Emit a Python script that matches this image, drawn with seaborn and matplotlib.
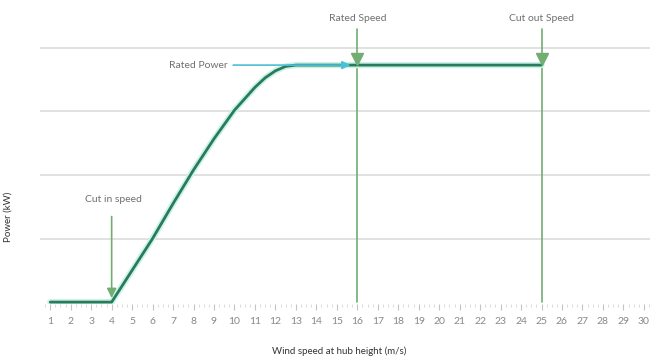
import numpy as np
import pandas as pd
import matplotlib
matplotlib.use("Agg")
import matplotlib.pyplot as plt
import seaborn as sns

# === DATA ===
wind_speed = [1, 2, 3, 4, 5, 6, 7, 8, 9, 10, 11, 11.5, 12, 12.5, 13,
              14, 15, 16, 17, 18, 19, 20, 21, 22, 23, 24, 25]
power = [0, 0, 0, 0, 0.5, 1.0, 1.55, 2.08, 2.57, 3.02, 3.38, 3.53, 3.64, 3.71, 3.73,
         3.73, 3.73, 3.73, 3.73, 3.73, 3.73, 3.73, 3.73, 3.73, 3.73, 3.73, 3.73]
tick_speeds = list(range(1, 31))
cut_in, rated_speed, cut_out = 4, 16, 25
rated_power = 3.73
labels = {"cut_in": "Cut in speed", "rated_power": "Rated Power",
          "rated_speed": "Rated Speed", "cut_out": "Cut out Speed"}

df = pd.DataFrame({"speed": wind_speed, "power": power})

sns.set_style("white")
plt.rcParams["font.family"] = ["Lato", "DejaVu Sans"]

GREY = "#707070"
GREEN = "#72ad72"
LINE = "#2b7a58"

fig = plt.figure(figsize=(6.5, 3.58), dpi=100)
ax = fig.add_axes([40 / 650, 1 - 304 / 358, 610 / 650, 264 / 358])

# soft cyan glow under the curve
sns.lineplot(data=df, x="speed", y="power", ax=ax, color="#c9f3ec", lw=4.5, zorder=3)
sns.lineplot(data=df, x="speed", y="power", ax=ax, color=LINE, lw=2.0, zorder=4)

ax.set_xlim(0.5, 30.3)
ax.set_ylim(-0.03, 4.125)
ax.set_yticks([1, 2, 3, 4])
ax.set_yticklabels([])
ax.yaxis.grid(True, color="#dcdcdc", lw=1.2)
ax.tick_params(axis="y", length=0)
for s in ax.spines.values():
    s.set_visible(False)

ax.set_xticks(tick_speeds)
ax.set_xticklabels([str(t) for t in tick_speeds], color="#888888", fontsize=7.5)
ax.set_xticks(np.arange(0.75, 30.3, 0.25), minor=True)
ax.tick_params(axis="x", which="both", bottom=True)
ax.tick_params(axis="x", which="major", length=4, width=0.8, color="#c4c4c4", pad=5, direction="out")
ax.tick_params(axis="x", which="minor", length=2.5, width=0.6, color="#d4d4d4", direction="out")

ax.set_xlabel("Wind speed at hub height (m/s)", fontsize=7, color="#333333")
ax.set_ylabel("Power (kW)", fontsize=7, color="#333333")
ax.xaxis.label.set_va("center")
ax.xaxis.set_label_coords(0.49, -0.18)
ax.yaxis.set_label_coords(-0.045, 0.33)

# rated / cut-out vertical lines with triangle markers
for xs, key in [(rated_speed, "rated_speed"), (cut_out, "cut_out")]:
    ax.plot([xs, xs], [0, 4.3], color=GREEN, lw=1.2, clip_on=False, zorder=2)
    ax.plot(xs, rated_power + 0.09, marker="v", color=GREEN, ms=8, zorder=5, clip_on=False)
    ax.text(xs, 4.47, labels[key], ha="center", va="center", fontsize=7.5,
            color=GREY, clip_on=False)

# cut in arrow
ax.annotate("", xy=(cut_in, 0.02), xytext=(cut_in, 1.39),
            arrowprops=dict(arrowstyle="-|>", color=GREEN, lw=1.2,
                            mutation_scale=14), zorder=5)
ax.text(cut_in + 0.1, 1.62, labels["cut_in"], ha="center", va="center",
        fontsize=7.5, color=GREY)

# rated power arrow
ax.annotate("", xy=(rated_speed - 0.2, rated_power), xytext=(9.8, rated_power),
            arrowprops=dict(arrowstyle="-|>", color="#4cbfd6", lw=1.2,
                            mutation_scale=12), zorder=5)
ax.text(9.65, rated_power, labels["rated_power"], ha="right", va="center",
        fontsize=7.5, color=GREY)

fig.savefig("out.png", dpi=100)
